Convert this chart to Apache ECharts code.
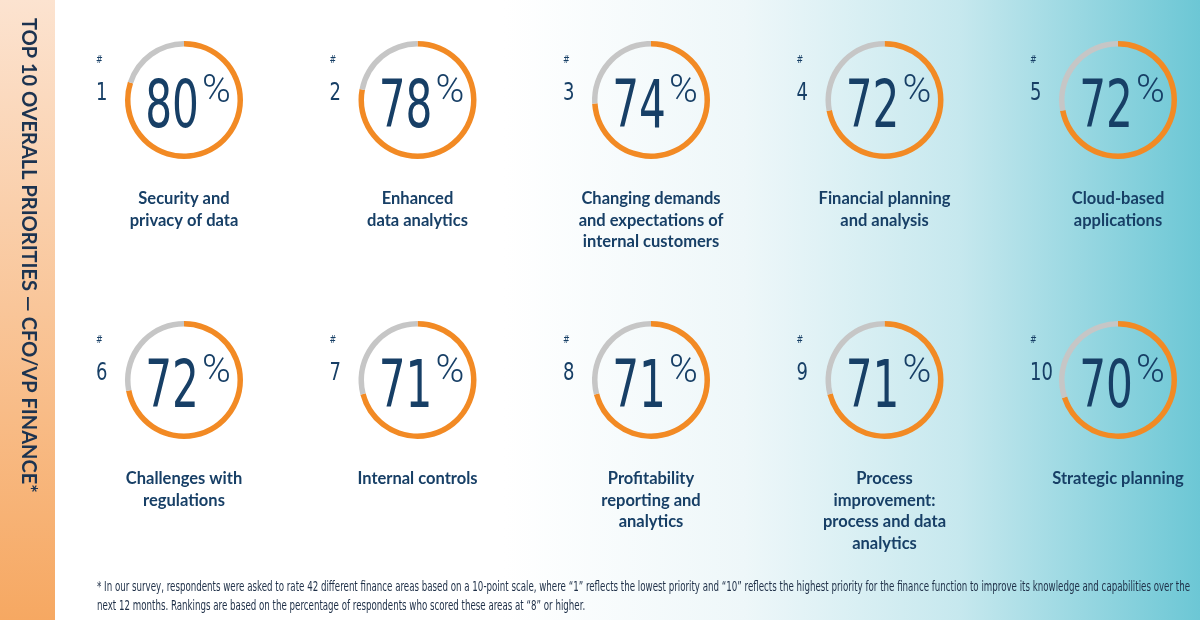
<!DOCTYPE html>
<html>
<head>
<meta charset="utf-8">
<script src="https://cdn.jsdelivr.net/npm/echarts@6/dist/echarts.min.js"></script>
<style>
  html, body { margin: 0; padding: 0; }
  #chart { width: 1200px; height: 620px; }
</style>
</head>
<body>
<div id="chart"></div>
<script>
// data
const ranks = [1, 2, 3, 4, 5, 6, 7, 8, 9, 10];
const shares = [80, 78, 74, 72, 72, 72, 71, 71, 71, 70];
const areas = [
  "Security and\nprivacy of data",
  "Enhanced\ndata analytics",
  "Changing demands\nand expectations of\ninternal customers",
  "Financial planning\nand analysis",
  "Cloud-based\napplications",
  "Challenges with\nregulations",
  "Internal controls",
  "Profitability\nreporting and\nanalytics",
  "Process\nimprovement:\nprocess and data\nanalytics",
  "Strategic planning"
];
const sideTitle = "TOP 10 OVERALL PRIORITIES \u2014 CFO/VP FINANCE*";
const footnote = [
  "* In our survey, respondents were asked to rate 42 different finance areas based on a 10-point scale, where \u201c1\u201d reflects the lowest priority and \u201c10\u201d reflects the highest priority for the finance function to improve its knowledge and capabilities over the",
  "next 12 months. Rankings are based on the percentage of respondents who scored these areas at \u201c8\u201d or higher."
];

const NAVY = "#173f66";
const ORANGE = "#f28a24";
const GREY = "#c6c6c6";

// no condensed face installed: squeeze DejaVu Sans horizontally instead
const NUM_FONT = "66px 'DejaVu Sans', sans-serif";
const NUM_SX = 0.64;
const PCT_FONT = "300 39px Roboto, 'Open Sans', sans-serif";
const RANK_FONT = "25px 'DejaVu Sans', sans-serif";
const NOTE_FONT = "13.5px 'DejaVu Sans', sans-serif";

const ctx = document.createElement("canvas").getContext("2d");
function textW(str, font) { ctx.font = font; return ctx.measureText(str).width; }

// grid of donuts: 5 per row
const colX = i => 184 + (i % 5) * 233.5;
const rowY = i => (i < 5 ? 100 : 380);

const series = shares.map((v, i) => ({
  type: "pie",
  center: [colX(i), rowY(i)],
  radius: [53.5, 59],
  startAngle: 90,
  clockwise: true,
  silent: true,
  label: { show: false },
  labelLine: { show: false },
  emphasis: { disabled: true },
  data: [
    { value: v, itemStyle: { color: ORANGE } },
    { value: 100 - v, itemStyle: { color: GREY } }
  ]
}));

const graphics = [
  {
    type: "rect",
    shape: { x: 0, y: 0, width: 55, height: 620 },
    style: {
      fill: new echarts.graphic.LinearGradient(0, 0, 0, 1, [
        { offset: 0, color: "#fce3d0" },
        { offset: 1, color: "#f6a862" }
      ])
    },
    silent: true
  },
  {
    type: "text",
    x: 28, y: 18,
    rotation: -Math.PI / 2,
    style: {
      text: sideTitle,
      font: "bold 20px Lato, 'Open Sans', sans-serif",
      fill: "#1c3350",
      align: "left",
      verticalAlign: "middle"
    },
    silent: true
  }
];

shares.forEach((v, i) => {
  const cx = colX(i), cy = rowY(i);
  const numW = textW(String(v), NUM_FONT) * NUM_SX;
  const pctW = textW("%", PCT_FONT);
  const left = cx + 4 - (numW + 3 + pctW) / 2;
  graphics.push(
    {
      type: "text", x: cx - 88, y: cy - 40,
      style: { text: "#", font: "10px 'DejaVu Sans', sans-serif", fill: NAVY, align: "left", verticalAlign: "middle" },
      scaleX: 0.8,
      silent: true
    },
    {
      type: "text", x: cx - 88, y: cy - 7,
      style: { text: String(ranks[i]), font: RANK_FONT, fill: NAVY, align: "left", verticalAlign: "middle" },
      scaleX: 0.72,
      silent: true
    },
    {
      type: "text", x: left, y: cy + 9.5,
      style: { text: String(v), font: NUM_FONT, fill: NAVY, align: "left", verticalAlign: "middle" },
      scaleX: NUM_SX,
      silent: true
    },
    {
      type: "text", x: left + numW + 3, y: cy - 27,
      style: { text: "%", font: PCT_FONT, fill: NAVY, align: "left", verticalAlign: "top" },
      silent: true
    },
    {
      type: "text", x: cx, y: cy + 88,
      style: {
        text: areas[i],
        font: "bold 16.5px Lato, 'Open Sans', sans-serif",
        fill: NAVY,
        align: "center",
        verticalAlign: "top",
        lineHeight: 21.5
      },
      silent: true
    }
  );
});

const noteSX = 1093 / textW(footnote[0], NOTE_FONT);
footnote.forEach((line, k) => {
  graphics.push({
    type: "text", x: 97, y: 587 + k * 19,
    style: { text: line, font: NOTE_FONT, fill: "#1e2f47", align: "left", verticalAlign: "middle" },
    scaleX: noteSX,
    silent: true
  });
});

const chart = echarts.init(document.getElementById("chart"), null, { renderer: "canvas" });
chart.setOption({
  animation: false,
  backgroundColor: new echarts.graphic.LinearGradient(0, 0, 1, 0, [
    { offset: 0, color: "#ffffff" },
    { offset: 0.42, color: "#ffffff" },
    { offset: 0.62, color: "#eef7f9" },
    { offset: 0.8, color: "#c6e8ee" },
    { offset: 1, color: "#6cc7d5" }
  ]),
  series: series,
  graphic: graphics
});
</script>
</body>
</html>
